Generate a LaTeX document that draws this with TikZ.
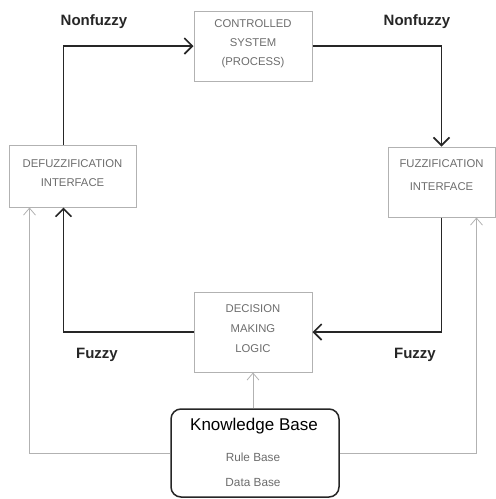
\documentclass[tikz,border=0pt]{standalone}
\usepackage{fontspec}
\setmainfont{Liberation Sans}
\usetikzlibrary{arrows.meta,calc}
\begin{document}
\begin{tikzpicture}[x=1pt,y=-1pt,
  box/.style={draw=gray!60,line width=1pt,rectangle,inner sep=0pt},
  boxtxt/.style={text=gray!85!black,font=\fontsize{11.3}{19}\selectfont,align=center,inner sep=0pt},
  lbl/.style={text=black!85,font=\fontsize{15}{17}\selectfont\bfseries,inner sep=0pt},
  fb/.style={line width=1.9pt,black!85,-{Straight Barb[length=8pt,width=16pt,line width=1.6pt]}},
  kbl/.style={draw=gray!60,line width=0.8pt,-{Straight Barb[length=7pt,width=12pt,line width=0.8pt]}}
]
\useasboundingbox (0,0) rectangle (496,499);
% boxes
\node[box,minimum width=118pt,minimum height=70pt] (ctrl) at (253,46) {};
\node[box,minimum width=127pt,minimum height=62pt] (defuzz) at (72.5,176) {};
\node[box,minimum width=107pt,minimum height=70pt] (fuzz) at (441.5,182) {};
\node[box,minimum width=118pt,minimum height=80pt] (dec) at (253,332) {};
\node[draw=black!85,line width=1.5pt,rounded corners=10pt,minimum width=168pt,minimum height=88pt,inner sep=0pt] (kb) at (255,453) {};
% box texts
\node[boxtxt] (ctrlt) at (253,43.5) {CONTROLLED\\SYSTEM\\(PROCESS)};
\node[boxtxt] (defuzzt) at (72.5,173.5) {DEFUZZIFICATION\\INTERFACE};
\node[boxtxt,font=\fontsize{11.3}{23}\selectfont] (fuzzt) at (441.5,175.5) {FUZZIFICATION\\INTERFACE};
\node[boxtxt,font=\fontsize{11.3}{20}\selectfont] (dect) at (253,329) {DECISION\\MAKING\\LOGIC};
\node[inner sep=0pt,font=\fontsize{17}{20}\selectfont] (kbt) at (254,426) {Knowledge Base};
\node[boxtxt,font=\fontsize{11.8}{25}\selectfont] (kbr) at (253,469.5) {Rule Base\\Data Base};
% labels
\node[lbl] (nf1) at (94,22) {Nonfuzzy};
\node[lbl] (nf2) at (417,22) {Nonfuzzy};
\node[lbl] (fz1) at (97,355) {Fuzzy};
\node[lbl] (fz2) at (415,355) {Fuzzy};
% thick loop
\draw[fb] ($(defuzz.north west)+(55,0)$) |- (ctrl.west);
\draw[fb] (ctrl.east) -| (fuzz.north);
\draw[fb] (fuzz.south) |- (dec.east);
\draw[fb] (dec.west) -| ($(defuzz.south west)+(55,0)$);
% knowledge base links
\draw[kbl] (kb.west) -| ($(defuzz.south west)+(21,0)$);
\draw[kbl] (kb.east) -| ($(fuzz.south east)+(-19,0)$);
\draw[kbl] (dec.south |- kb.north) -- (dec.south);
\end{tikzpicture}
\end{document}
